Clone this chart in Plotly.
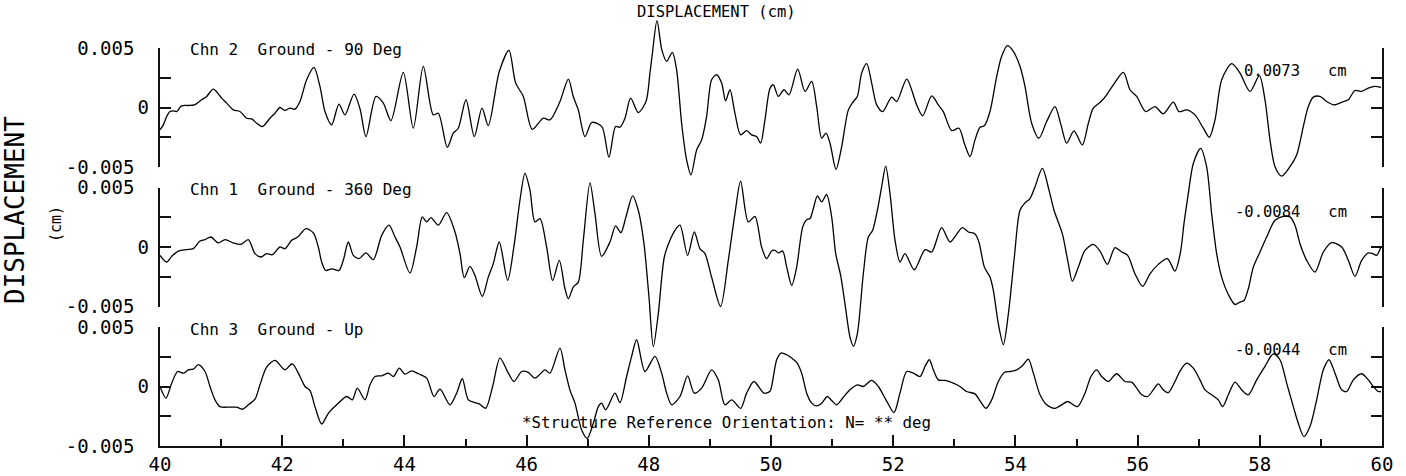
import numpy as np
import plotly.graph_objects as go

# ---------------- data (time in s, displacement in units of 0.001 cm) ----------------
chn2_t = [40.0, 40.054, 40.109, 40.163, 40.218, 40.273, 40.354, 40.464, 40.562, 40.682, 40.764, 40.873,
          41.009, 41.091, 41.20, 41.309, 41.418, 41.50, 41.582, 41.675, 41.80, 41.882, 41.964, 42.045,
          42.127, 42.209, 42.291, 42.40, 42.52, 42.618, 42.70, 42.809, 42.929, 43.027, 43.175, 43.273,
          43.371, 43.535, 43.655, 43.780, 43.982, 44.146, 44.309, 44.473, 44.555, 44.702, 44.80, 44.882,
          45.008, 45.144, 45.270, 45.373, 45.553, 45.711, 45.821, 45.946, 46.093, 46.273, 46.382, 46.546,
          46.683, 46.764, 46.846, 46.955, 47.064, 47.146, 47.239, 47.348, 47.457, 47.528, 47.61, 47.703,
          47.828, 47.954, 48.019, 48.06, 48.134, 48.215, 48.292, 48.385, 48.455, 48.537, 48.619, 48.69,
          48.783, 48.865, 48.946, 49.028, 49.11, 49.192, 49.257, 49.328, 49.41, 49.503, 49.601, 49.683,
          49.765, 49.83, 49.901, 49.983, 50.039, 50.12, 50.213, 50.295, 50.437, 50.557, 50.666, 50.748,
          50.83, 50.90, 50.966, 51.064, 51.157, 51.266, 51.348, 51.413, 51.484, 51.566, 51.648, 51.73,
          51.828, 51.975, 52.057, 52.221, 52.384, 52.482, 52.63, 52.739, 52.82, 52.957, 53.077, 53.164,
          53.257, 53.339, 53.421, 53.492, 53.584, 53.694, 53.775, 53.868, 53.966, 54.075, 54.157, 54.266,
          54.386, 54.512, 54.648, 54.746, 54.839, 54.959, 55.095, 55.194, 55.275, 55.401, 55.494, 55.603,
          55.767, 55.876, 55.985, 56.132, 56.285, 56.421, 56.585, 56.677, 56.803, 56.94, 57.076, 57.174,
          57.267, 57.376, 57.54, 57.676, 57.84, 57.992, 58.085, 58.167, 58.249, 58.358, 58.494, 58.603,
          58.712, 58.794, 58.876, 58.985, 59.094, 59.214, 59.367, 59.449, 59.558, 59.667, 59.776, 59.885,
          59.983]
chn2_disp = [-1.88, -1.46, -0.76, -0.34, -0.28, -0.34, 0.14, 0.17, 0.22, 0.65, 0.93, 1.54,
             0.79, 0.37, -0.20, -0.34, -0.90, -0.96, -1.32, -1.60, -0.90, -0.48, 0.00, -0.25,
             -0.06, -0.14, 0.50, 2.33, 3.37, 1.77, -0.34, -1.46, 0.28, -0.62, 1.12, -0.10,
             -2.44, 0.93, 0.37, -1.10, 2.95, -1.74, 3.46, -0.62, -0.48, -3.34, -2.16, -1.74,
             0.65, -2.44, -0.06, -1.52, 3.03, 4.80, 2.05, 0.93, -1.83, -0.90, -1.04, 0.50,
             2.39, 0.93, -0.20, -2.44, -1.26, -1.32, -1.66, -4.19, -1.60, -1.66, -0.90, 0.79,
             -0.42, 0.50, 2.89, 4.60, 7.30, 4.80, 3.88, 4.63, 3.17, -1.32, -4.41, -5.67,
             -3.57, -2.72, -0.76, 2.33, 2.75, 2.05, 0.56, 1.49, -0.48, -2.30, -1.94, -2.30,
             -2.44, -3.00, -1.04, 1.60, 1.91, 0.93, 1.49, 1.07, 3.23, 1.35, 2.19, 0.08,
             -2.58, -2.16, -3.00, -5.20, -3.29, -0.20, 0.50, 0.93, 2.89, 3.68, 2.05, 0.22,
             -0.34, 0.87, 0.50, 2.39, 0.22, -0.70, 0.98, 0.22, -0.34, -1.94, -1.74, -3.00,
             -4.13, -2.72, -1.66, -1.54, -0.34, 2.61, 4.30, 5.20, 4.72, 3.46, 1.77, -1.32,
             -2.58, -1.18, 0.08, -1.46, -3.00, -1.97, -3.15, -1.32, -0.06, 0.50, 1.07, 1.91,
             2.95, 1.49, 0.93, -0.34, 0.08, -0.53, 0.45, -0.34, -0.20, -0.62, -1.74, -2.50,
             -1.04, 2.33, 3.68, 2.89, 1.35, 2.67, 0.65, -2.72, -4.97, -5.76, -4.97, -3.99,
             -1.60, 0.08, 0.87, 0.93, 0.50, 0.22, 0.50, 0.65, 1.43, 1.35, 1.63, 1.77,
             1.69]

chn1_t = [40.0, 40.109, 40.191, 40.30, 40.436, 40.545, 40.654, 40.736, 40.834, 40.954, 41.064, 41.20,
          41.325, 41.445, 41.555, 41.653, 41.745, 41.838, 41.964, 42.045, 42.155, 42.253, 42.389, 42.509,
          42.591, 42.646, 42.711, 42.809, 42.929, 43.0, 43.082, 43.164, 43.256, 43.371, 43.491, 43.628,
          43.748, 43.846, 43.928, 44.091, 44.20, 44.293, 44.364, 44.435, 44.555, 44.691, 44.828, 44.91,
          44.98, 45.073, 45.155, 45.275, 45.373, 45.455, 45.553, 45.69, 45.799, 45.891, 45.973, 46.055,
          46.137, 46.219, 46.328, 46.426, 46.535, 46.628, 46.683, 46.764, 46.846, 46.928, 47.037, 47.119,
          47.228, 47.364, 47.457, 47.544, 47.626, 47.735, 47.828, 47.921, 48.003, 48.074, 48.155, 48.254,
          48.346, 48.428, 48.51, 48.635, 48.745, 48.837, 48.919, 49.028, 49.175, 49.301, 49.41, 49.503,
          49.628, 49.737, 49.846, 49.928, 50.01, 50.066, 50.12, 50.191, 50.257, 50.339, 50.42, 50.519,
          50.584, 50.639, 50.693, 50.759, 50.83, 50.911, 50.993, 51.059, 51.14, 51.211, 51.293, 51.348,
          51.413, 51.511, 51.593, 51.664, 51.741, 51.811, 51.877, 51.948, 52.03, 52.111, 52.193, 52.346,
          52.521, 52.63, 52.793, 52.93, 53.131, 53.23, 53.339, 53.404, 53.492, 53.584, 53.639, 53.721,
          53.803, 53.885, 53.983, 54.075, 54.157, 54.239, 54.321, 54.441, 54.55, 54.632, 54.768, 54.856,
          54.932, 55.03, 55.139, 55.276, 55.385, 55.505, 55.63, 55.739, 55.837, 55.957, 56.083, 56.203,
          56.339, 56.487, 56.612, 56.70, 56.76, 56.83, 56.912, 57.032, 57.13, 57.212, 57.294, 57.376,
          57.485, 57.594, 57.676, 57.741, 57.812, 57.894, 58.003, 58.112, 58.249, 58.385, 58.494, 58.576,
          58.658, 58.767, 58.903, 59.04, 59.176, 59.34, 59.449, 59.558, 59.667, 59.776, 59.847, 59.912,
          59.983]
chn1_disp = [-0.70, -1.26, -0.79, -0.34, -0.22, -0.14, 0.51, 0.62, 0.84, 0.34, 0.62, 0.34,
             0.22, 0.62, -0.56, -0.84, -0.56, -0.65, 0.00, -0.14, 0.56, 0.84, 1.54, 1.18,
             0.00, -1.26, -1.97, -1.83, -1.97, -1.12, 0.42, -0.70, -0.98, -0.50, -1.07, 0.98,
             1.83, 0.84, 0.00, -2.19, 0.00, 2.53, 2.11, 2.47, 1.83, 2.89, 1.26, -0.56,
             -2.58, -1.63, -2.39, -4.16, -2.53, -1.40, 0.42, -2.81, 0.28, 3.93, 6.18, 4.78,
             2.11, 2.39, 0.00, -2.81, -1.12, -3.51, -4.35, -3.37, -2.95, 0.56, 5.39, 2.81,
             -0.79, 0.42, 1.77, 1.21, 2.53, 4.30, 3.09, 0.28, -4.21, -8.37, -5.62, -0.84,
             0.56, 1.40, 1.83, -0.70, 1.26, -0.14, -0.56, -2.53, -5.00, -1.12, 2.81, 5.53,
             2.11, 2.58, 0.00, -0.98, -0.34, -0.28, -0.50, -0.34, -1.69, -3.23, -1.69, 1.69,
             2.30, 2.39, 3.23, 4.30, 3.79, 4.41, 2.53, -0.56, -2.39, -4.78, -7.58, -8.34,
             -7.30, -2.25, 0.84, 1.40, 3.09, 5.06, 6.80, 4.49, 0.56, -1.26, -0.56, -1.91,
             -0.22, -0.42, 1.63, 0.42, 1.63, 1.26, 1.10, 0.40, -1.69, -2.53, -3.65, -6.46,
             -8.20, -5.62, -0.84, 3.09, 3.71, 4.07, 5.06, 6.60, 4.78, 3.09, 1.12, -1.12,
             -2.87, -1.69, -0.28, 0.22, -0.34, -1.46, -0.06, -0.42, -0.70, -2.25, -3.31, -2.25,
             -1.46, -0.98, -2.02, -0.50, 2.00, 4.50, 7.02, 8.29, 6.74, 2.81, -0.56, -2.53,
             -3.99, -4.83, -4.63, -4.50, -3.51, -1.69, -0.42, 0.84, 2.25, 2.58, 2.53, 1.83,
             0.28, -1.12, -2.11, -0.42, 0.37, 0.00, -1.12, -2.47, -1.12, -0.50, -0.56, -0.70,
             0.00]

chn3_t = [40.0, 40.098, 40.191, 40.289, 40.382, 40.464, 40.545, 40.627, 40.736, 40.818, 40.90, 40.982,
          41.118, 41.254, 41.347, 41.445, 41.555, 41.636, 41.745, 41.882, 42.045, 42.165, 42.291, 42.373,
          42.455, 42.536, 42.646, 42.755, 42.891, 43.055, 43.147, 43.229, 43.355, 43.437, 43.518, 43.628,
          43.737, 43.819, 43.917, 44.009, 44.119, 44.228, 44.364, 44.484, 44.582, 44.746, 44.855, 44.948,
          45.046, 45.155, 45.226, 45.33, 45.444, 45.564, 45.701, 45.793, 45.919, 46.028, 46.137, 46.301,
          46.382, 46.546, 46.628, 46.71, 46.792, 46.901, 46.993, 47.092, 47.174, 47.228, 47.294, 47.446,
          47.528, 47.637, 47.719, 47.801, 47.937, 48.101, 48.21, 48.292, 48.374, 48.51, 48.635, 48.745,
          48.865, 49.028, 49.137, 49.246, 49.356, 49.503, 49.601, 49.721, 49.885, 49.983, 50.039, 50.093,
          50.164, 50.257, 50.339, 50.42, 50.502, 50.584, 50.666, 50.748, 50.83, 50.922, 50.993, 51.075,
          51.184, 51.293, 51.413, 51.511, 51.648, 51.757, 51.882, 52.013, 52.111, 52.221, 52.33, 52.439,
          52.521, 52.592, 52.657, 52.739, 52.848, 52.984, 53.093, 53.202, 53.339, 53.421, 53.519, 53.612,
          53.721, 53.819, 53.912, 54.021, 54.114, 54.212, 54.294, 54.403, 54.512, 54.648, 54.757, 54.855,
          54.948, 55.019, 55.139, 55.237, 55.33, 55.412, 55.521, 55.657, 55.794, 55.903, 55.985, 56.067,
          56.165, 56.257, 56.339, 56.421, 56.503, 56.612, 56.694, 56.803, 56.912, 57.021, 57.103, 57.212,
          57.321, 57.392, 57.485, 57.594, 57.703, 57.812, 57.949, 58.085, 58.221, 58.33, 58.44, 58.549,
          58.63, 58.723, 58.821, 58.931, 59.04, 59.132, 59.231, 59.34, 59.422, 59.531, 59.667, 59.776,
          59.858, 59.94, 59.983]
chn3_disp = [0.00, -0.98, 0.28, 1.26, 1.12, 1.40, 1.46, 1.83, 1.26, 0.00, -1.12, -1.69,
             -1.74, -1.74, -1.91, -1.54, -1.07, 0.14, 1.63, 2.19, 1.40, 1.91, 0.84, 0.00,
             -0.34, -1.69, -3.15, -2.25, -1.54, -0.84, -1.12, -0.14, -1.12, 0.14, 0.84, 0.90,
             1.12, 0.84, 1.54, 1.04, 1.32, 1.07, 0.70, -0.84, -0.22, -1.54, -0.56, 0.65,
             -1.12, -1.35, -1.46, -1.83, 0.00, 2.39, 1.12, 0.42, 1.26, 1.18, 0.70, 1.40,
             1.12, 3.23, 1.40, -0.30, -1.40, -3.65, -4.35, -3.09, -1.69, -1.40, -1.97, -0.56,
             -1.35, 0.84, 2.53, 3.93, 1.26, 2.53, 1.12, -0.56, -1.54, -0.84, 0.90, -0.56,
             -0.14, 1.40, 0.56, -1.54, -1.12, -1.83, -0.56, 0.42, -0.56, -0.40, 0.84, 2.25,
             2.81, 2.67, 2.39, 2.02, 1.12, -0.56, -1.40, -1.63, -1.40, -0.84, -1.18, -1.54,
             -0.90, -0.28, 0.14, 0.00, 0.51, 0.00, -1.12, -2.19, -0.56, 1.26, 1.12, 0.84,
             1.69, 2.25, 1.40, 0.56, 0.51, 0.28, 0.00, -0.42, -0.62, -1.20, -1.83, -1.12,
             0.42, 1.18, 1.26, 1.40, 1.74, 2.30, 1.12, -0.70, -1.54, -1.83, -1.54, -1.26,
             -1.54, -1.69, -0.56, 0.84, 1.40, 0.84, 0.42, 1.07, 0.42, 0.37, -0.14, -0.70,
             -0.84, -0.28, 0.22, -0.28, -0.51, 0.42, 1.30, 1.97, 1.54, 0.56, -0.28, -0.70,
             -1.12, -1.69, -0.70, 0.37, -0.28, -0.70, 0.56, 1.69, 2.75, 2.25, 0.28, -1.69,
             -3.09, -4.21, -3.37, -1.12, 1.40, 2.25, 1.12, -0.28, -0.42, 0.56, 1.07, 0.56,
             0.00, -0.42, -0.42]

channels = [
    ("Chn 2\u00a0\u00a0Ground - 90 Deg", chn2_t, chn2_disp, "0.0073"),
    ("Chn 1\u00a0\u00a0Ground - 360 Deg", chn1_t, chn1_disp, "-0.0084"),
    ("Chn 3\u00a0\u00a0Ground - Up", chn3_t, chn3_disp, "-0.0044"),
]
x_range = [40, 60]
y_range = [-0.005, 0.005]
y_major = [-0.005, 0.005]
y_major_text = ["-0.005", "0.005"]
y_minor = [-0.0025, 0.0, 0.0025]
unit = 1e-3  # data stored in 0.001 cm

# ---------------- layout geometry (pixels) ----------------
W, H = 1406, 476
L, R = 160, 24
panel_tops = [48.0, 187.5, 327.0]
panel_h = 119.0

def py(p):
    return 1 - p / H

def px(p):
    return (p - L) / (W - L - R)

FONT = "DejaVu Sans Mono"
AX = "#111111"
fig = go.Figure()
layout = dict(
    width=W, height=H,
    margin=dict(l=L, r=R, t=0, b=0, autoexpand=False),
    paper_bgcolor="white", plot_bgcolor="rgba(0,0,0,0)",
    showlegend=False,
    font=dict(family=FONT, color="black", size=16),
    xaxis=dict(range=x_range, domain=[0, 1], anchor="y3", showline=True, linecolor=AX,
               linewidth=1.5, ticks="inside", ticklen=11, tickwidth=1.5, tickcolor=AX,
               tick0=40, dtick=2, showgrid=False, zeroline=False,
               tickfont=dict(family=FONT, size=19),
               minor=dict(dtick=1, ticklen=7, ticks="inside", tickwidth=1.5, tickcolor=AX,
                          showgrid=False)),
)

annotations = []
for i, (label, t, d, peak) in enumerate(channels):
    top = panel_tops[i]
    d0, d1 = py(top + panel_h), py(top)
    n = "" if i == 0 else str(i + 1)
    # frame axis of the panel
    layout["yaxis" + n] = dict(
        domain=[d0, d1], range=y_range, anchor="x", showline=True, linecolor=AX,
        linewidth=1.5, mirror="ticks", ticks="inside", ticklen=20, tickwidth=1.5,
        tickcolor=AX, tickmode="array", tickvals=y_major, ticktext=y_major_text,
        ticklabelstandoff=20, showgrid=False, zeroline=False,
        tickfont=dict(family=FONT, size=19),
        minor=dict(tickvals=y_minor, ticklen=11, ticks="inside", tickwidth=1.5,
                   tickcolor=AX, showgrid=False))
    fig.add_trace(go.Scatter(x=[], y=[], xaxis="x", yaxis="y" + n, mode="lines",
                             hoverinfo="skip"))
    # overlay axis carrying the "0" label
    k0 = 7 + i
    layout["yaxis%d" % k0] = dict(
        overlaying="y" + n, range=y_range, anchor="x", side="left", showline=False,
        ticks="", tickmode="array", tickvals=[0], ticktext=["0"], showgrid=False,
        zeroline=False, ticklabelstandoff=10, tickfont=dict(family=FONT, size=19))
    fig.add_trace(go.Scatter(x=[], y=[], xaxis="x", yaxis="y%d" % k0, mode="lines",
                             hoverinfo="skip"))
    # data axis covering the full figure height (so traces are not clipped at panel edges)
    k = 4 + i
    span = y_range[1] - y_range[0]
    per = span / (d1 - d0)
    layout["yaxis%d" % k] = dict(domain=[0, 1], anchor="x", visible=False,
                                 range=[y_range[0] - d0 * per, y_range[1] + (1 - d1) * per])
    fig.add_trace(go.Scatter(x=t, y=np.array(d) * unit, mode="lines", xaxis="x",
                             yaxis="y%d" % k, line=dict(color="black", width=1.3, shape="spline",
                                                        smoothing=0.8),
                             hoverinfo="skip"))
    annotations.append(dict(text=label, x=px(188), y=py(top + 2), xref="paper", yref="paper",
                            xanchor="left", yanchor="middle", showarrow=False,
                            font=dict(family=FONT, size=16)))
    annotations.append(dict(text=peak + "\u00a0\u00a0\u00a0cm", x=px(1349),
                            y=py([71, 212, 350][i]), xref="paper", yref="paper",
                            xanchor="right", yanchor="middle", showarrow=False,
                            font=dict(family=FONT, size=15.5)))

annotations += [
    dict(text="DISPLACEMENT (cm)", x=px(716), y=py(12), xref="paper", yref="paper",
         xanchor="center", yanchor="middle", showarrow=False, font=dict(family=FONT, size=15.5)),
    dict(text="DISPLACEMENT", x=px(15), y=py(210), xref="paper", yref="paper",
         xanchor="center", yanchor="middle", textangle=-90, showarrow=False,
         font=dict(family=FONT, size=26)),
    dict(text="(cm)", x=px(56), y=py(224), xref="paper", yref="paper",
         xanchor="center", yanchor="middle", textangle=-90, showarrow=False,
         font=dict(family=FONT, size=15)),
    dict(text="*Structure Reference Orientation: N= ** deg", x=px(520), y=py(422),
         xref="paper", yref="paper", xanchor="left", yanchor="middle", showarrow=False,
         font=dict(family=FONT, size=15.8)),
]
layout["annotations"] = annotations
fig.update_layout(**layout)
fig.write_html("out.html", config={"displayModeBar": False},
               post_script="document.body.style.margin='0px';")
